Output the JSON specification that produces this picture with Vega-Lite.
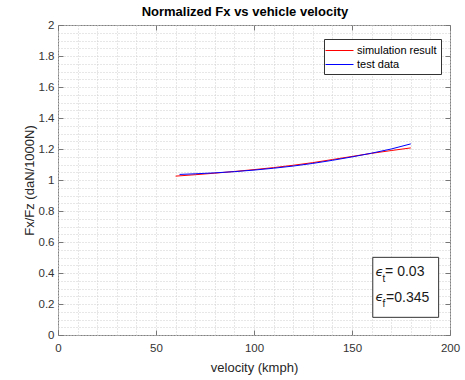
{
  "$schema": "https://vega.github.io/schema/vega-lite/v6.json",
  "width": 392,
  "height": 310,
  "autosize": {"type": "none"},
  "padding": {"left": 58, "top": 25, "right": 15, "bottom": 45},
  "background": "white",
  "title": {
    "text": "Normalized Fx vs vehicle velocity",
    "font": "Liberation Sans",
    "fontSize": 13,
    "fontWeight": "bold",
    "color": "#000000",
    "anchor": "middle",
    "dx": -9,
    "offset": 0
  },
  "config": {
    "view": {"stroke": "#808080", "strokeWidth": 1},
    "font": "Liberation Sans"
  },
  "datasets": {
    "lines": [
      {"velocity": 60, "value": 1.025, "series": "simulation result"},
      {"velocity": 70, "value": 1.034, "series": "simulation result"},
      {"velocity": 80, "value": 1.044, "series": "simulation result"},
      {"velocity": 90, "value": 1.055, "series": "simulation result"},
      {"velocity": 100, "value": 1.067, "series": "simulation result"},
      {"velocity": 110, "value": 1.08, "series": "simulation result"},
      {"velocity": 120, "value": 1.095, "series": "simulation result"},
      {"velocity": 130, "value": 1.112, "series": "simulation result"},
      {"velocity": 140, "value": 1.132, "series": "simulation result"},
      {"velocity": 150, "value": 1.152, "series": "simulation result"},
      {"velocity": 160, "value": 1.172, "series": "simulation result"},
      {"velocity": 170, "value": 1.19, "series": "simulation result"},
      {"velocity": 180, "value": 1.207, "series": "simulation result"},
      {"velocity": 62, "value": 1.036, "series": "test data"},
      {"velocity": 70, "value": 1.04, "series": "test data"},
      {"velocity": 80, "value": 1.046, "series": "test data"},
      {"velocity": 90, "value": 1.054, "series": "test data"},
      {"velocity": 100, "value": 1.064, "series": "test data"},
      {"velocity": 110, "value": 1.076, "series": "test data"},
      {"velocity": 120, "value": 1.09, "series": "test data"},
      {"velocity": 130, "value": 1.107, "series": "test data"},
      {"velocity": 140, "value": 1.127, "series": "test data"},
      {"velocity": 150, "value": 1.149, "series": "test data"},
      {"velocity": 160, "value": 1.173, "series": "test data"},
      {"velocity": 170, "value": 1.2, "series": "test data"},
      {"velocity": 180, "value": 1.233, "series": "test data"}
    ],
    "box": [{"x1": 160.6, "x2": 194.2, "y1": 0.114, "y2": 0.501}],
    "eps": [
      {"x": 162.0, "y": 0.383, "t": "ϵ"},
      {"x": 162.0, "y": 0.217, "t": "ϵ"}
    ],
    "subs": [
      {"x": 165.5, "y": 0.344, "t": "t"},
      {"x": 165.6, "y": 0.181, "t": "f"}
    ],
    "vals": [
      {"x": 166.9, "y": 0.383, "t": "= 0.03"},
      {"x": 167.4, "y": 0.215, "t": "=0.345"}
    ]
  },
  "resolve": {"axis": {"x": "independent", "y": "independent"}},
  "layer": [
    {
      "data": {"name": "lines"},
      "mark": {"type": "line", "strokeWidth": 1},
      "encoding": {
        "x": {
          "field": "velocity",
          "type": "quantitative",
          "scale": {"domain": [0, 200], "nice": false, "zero": false},
          "axis": {
            "orient": "bottom",
            "title": "velocity (kmph)",
            "values": [0,10,20,30,40,50,60,70,80,90,100,110,120,130,140,150,160,170,180,190,200],
            "labelExpr": "datum.value % 50 === 0 ? datum.label : ''",
            "labelOverlap": false,
            "labelFlush": false,
            "labelFont": "Liberation Sans",
            "labelFontSize": 11.5,
            "labelColor": "#333333",
            "labelPadding": 12,
            "tickSize": -5,
            "tickColor": "#777777",
            "tickOpacity": {"condition": {"test": "datum.value % 50 === 0", "value": 1}, "value": 0},
            "domain": false,
            "grid": true,
            "gridColor": "#cfcfcf",
            "gridDash": [1, 2],
            "gridWidth": 1,
            "titleFont": "Liberation Sans",
            "titleFontSize": 13,
            "titleFontWeight": "normal",
            "titleColor": "#262626",
            "titlePadding": 8
          }
        },
        "y": {
          "field": "value",
          "type": "quantitative",
          "scale": {"domain": [0, 2], "nice": false, "zero": false},
          "axis": {
            "orient": "left",
            "title": "Fx/Fz (daN/1000N)",
            "values": [0,0.05,0.1,0.15,0.2,0.25,0.3,0.35,0.4,0.45,0.5,0.55,0.6,0.65,0.7,0.75,0.8,0.85,0.9,0.95,1,1.05,1.1,1.15,1.2,1.25,1.3,1.35,1.4,1.45,1.5,1.55,1.6,1.65,1.7,1.75,1.8,1.85,1.9,1.95,2],
            "labelExpr": "abs(datum.value*5 - round(datum.value*5)) < 0.001 ? format(datum.value, '~g') : ''",
            "labelOverlap": false,
            "labelFont": "Liberation Sans",
            "labelFontSize": 11.5,
            "labelColor": "#333333",
            "labelPadding": 9,
            "tickSize": -5,
            "tickColor": "#777777",
            "tickOpacity": {"condition": {"test": "abs(datum.value*5 - round(datum.value*5)) < 0.001", "value": 1}, "value": 0},
            "domain": false,
            "grid": true,
            "gridColor": "#cfcfcf",
            "gridDash": [1, 2],
            "gridWidth": 1,
            "titleFont": "Liberation Sans",
            "titleFontSize": 13,
            "titleFontWeight": "normal",
            "titleColor": "#262626",
            "titlePadding": 2
          }
        },
        "color": {
          "field": "series",
          "type": "nominal",
          "scale": {"domain": ["simulation result", "test data"], "range": ["#ff0000", "#0000ff"]},
          "legend": {
            "title": null,
            "orient": "none",
            "legendX": 266,
            "legendY": 14,
            "symbolType": "M-2,0H2",
            "symbolSize": 196,
            "symbolStrokeWidth": 1,
            "symbolOffset": 4,
            "labelFont": "Liberation Sans",
            "labelFontSize": 11,
            "labelColor": "#000000",
            "labelOffset": 10,
            "padding": 4,
            "rowPadding": 1,
            "strokeColor": "#333333",
            "fillColor": "#ffffff"
          }
        }
      }
    },
    {
      "data": {"name": "box"},
      "mark": {"type": "rect", "fill": "#ffffff", "stroke": "#333333", "strokeWidth": 1},
      "encoding": {
        "x": {
          "field": "x1",
          "type": "quantitative",
          "axis": {
            "orient": "top",
            "title": null,
            "values": [0, 50, 100, 150, 200],
            "labels": false,
            "grid": false,
            "domain": false,
            "tickSize": -5,
            "tickColor": "#777777"
          }
        },
        "x2": {"field": "x2"},
        "y": {
          "field": "y1",
          "type": "quantitative",
          "axis": {
            "orient": "right",
            "title": null,
            "values": [0,0.2,0.4,0.6,0.8,1,1.2,1.4,1.6,1.8,2],
            "labels": false,
            "grid": false,
            "domain": false,
            "tickSize": -5,
            "tickColor": "#777777"
          }
        },
        "y2": {"field": "y2"}
      }
    },
    {
      "data": {"name": "eps"},
      "mark": {"type": "text", "align": "left", "baseline": "alphabetic", "font": "DejaVu Sans", "fontSize": 13, "fontStyle": "italic", "color": "#1a1a1a"},
      "encoding": {
        "x": {"field": "x", "type": "quantitative", "axis": null},
        "y": {"field": "y", "type": "quantitative", "axis": null},
        "text": {"field": "t"}
      }
    },
    {
      "data": {"name": "subs"},
      "mark": {"type": "text", "align": "left", "baseline": "alphabetic", "font": "Liberation Sans", "fontSize": 10, "color": "#1a1a1a"},
      "encoding": {
        "x": {"field": "x", "type": "quantitative", "axis": null},
        "y": {"field": "y", "type": "quantitative", "axis": null},
        "text": {"field": "t"}
      }
    },
    {
      "data": {"name": "vals"},
      "mark": {"type": "text", "align": "left", "baseline": "alphabetic", "font": "Liberation Sans", "fontSize": 14, "color": "#1a1a1a"},
      "encoding": {
        "x": {"field": "x", "type": "quantitative", "axis": null},
        "y": {"field": "y", "type": "quantitative", "axis": null},
        "text": {"field": "t"}
      }
    }
  ]
}
